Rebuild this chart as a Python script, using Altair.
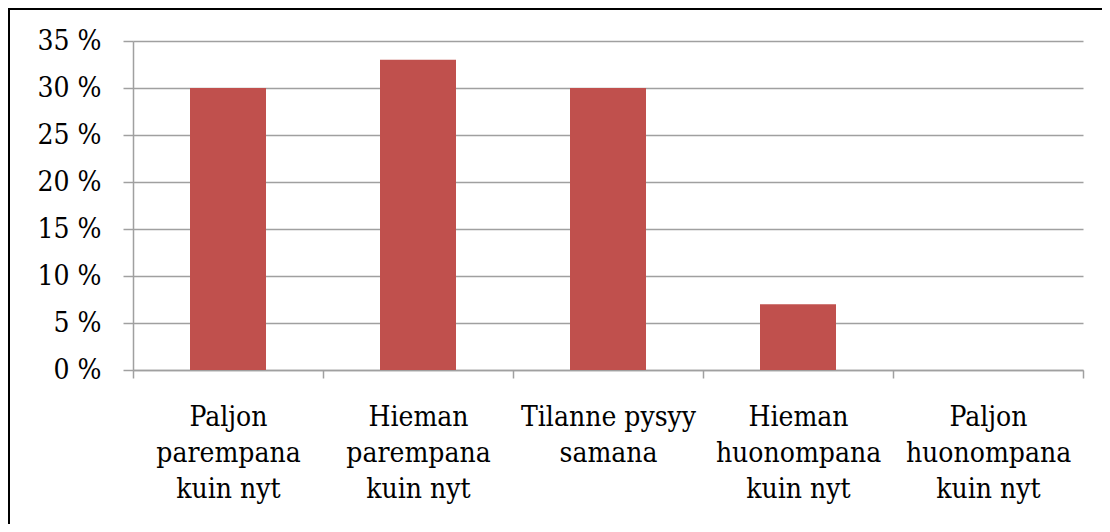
import altair as alt
import pandas as pd

categories = [
    "Paljon|parempana|kuin nyt",
    "Hieman|parempana|kuin nyt",
    "Tilanne pysyy|samana",
    "Hieman|huonompana|kuin nyt",
    "Paljon|huonompana|kuin nyt",
]
values = [30, 33, 30, 7, 0]
y_ticks = [0, 5, 10, 15, 20, 25, 30, 35]

df = pd.DataFrame({"cat": categories, "val": values})

FONT = "DejaVu Serif Condensed, DejaVu Serif"
GRID = "#A0A0A0"

bars = alt.Chart(df).mark_bar(color="#C0504D", width=alt.RelativeBandSize(0.4)).encode(
    x=alt.X(
        "cat:N",
        sort=categories,
        scale=alt.Scale(paddingInner=0, paddingOuter=0),
        axis=alt.Axis(
            title=None,
            labelExpr="split(datum.label, '|')",
            labelAngle=0,
            labelAlign="center",
            labelBaseline="top",
            tickBand="extent",
            ticks=True,
            tickSize=8,
            tickColor=GRID,
            tickWidth=1.5,
            domainColor=GRID,
            domainWidth=1.5,
            labelFont=FONT,
            labelFontSize=28,
            labelColor="black",
            labelLineHeight=36,
            labelPadding=25,
            labelLimit=0,
            grid=False,
        ),
    ),
    y=alt.Y(
        "val:Q",
        scale=alt.Scale(domain=[0, 35], nice=False),
        axis=alt.Axis(
            title=None,
            values=y_ticks,
            labelExpr="datum.value + ' %'",
            tickSize=10,
            tickColor=GRID,
            tickWidth=1.5,
            domainColor=GRID,
            domainWidth=1.5,
            gridColor=GRID,
            gridWidth=1.5,
            labelFont=FONT,
            labelFontSize=28,
            labelColor="black",
            labelPadding=22,
            labelBaseline="middle",
        ),
    ),
)

border = alt.Chart(pd.DataFrame({"a": [0]})).mark_rect(
    fillOpacity=0, stroke="black", strokeWidth=2, clip=False
).encode(
    x=alt.value(-124),
    x2=alt.value(1200),
    y=alt.value(-32),
    y2=alt.value(700),
)

chart = (
    alt.layer(bars, border)
    .properties(
        width=950,
        height=329,
        padding={"left": 125, "top": 33, "right": 19, "bottom": 154},
        autosize=alt.AutoSizeParams(type="none"),
        background="white",
    )
    .configure_view(stroke=None)
)

chart.save("out.html", embed_options={"renderer": "svg", "actions": False})
